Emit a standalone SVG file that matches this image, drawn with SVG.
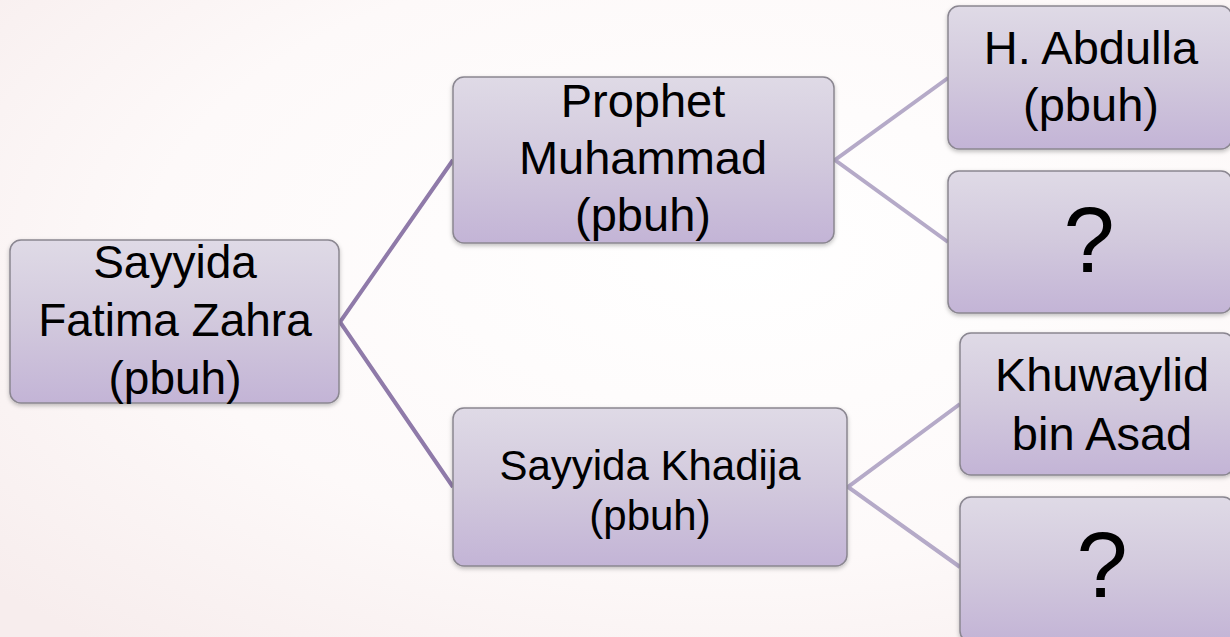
<svg xmlns="http://www.w3.org/2000/svg" width="1230" height="637" viewBox="0 0 1230 637">
<defs>
<radialGradient id="bg" cx="0.6" cy="0.4" r="0.8">
<stop offset="0" stop-color="#ffffff"/>
<stop offset="0.6" stop-color="#fdf9f9"/>
<stop offset="1" stop-color="#f7eded"/>
</radialGradient>
<linearGradient id="nf" x1="0" y1="0" x2="0" y2="1">
<stop offset="0" stop-color="#dfdae6"/>
<stop offset="0.5" stop-color="#d2c9dd"/>
<stop offset="1" stop-color="#c3b4d6"/>
</linearGradient>
<filter id="sh" x="-10%" y="-10%" width="120%" height="130%">
<feDropShadow dx="0" dy="2" stdDeviation="2" flood-color="#000" flood-opacity="0.25"/>
</filter>
<style>
.n{fill:url(#nf);stroke:#8a8690;stroke-width:1.5;filter:url(#sh)}
.t{font-family:"Liberation Sans",Arial,sans-serif;fill:#000;text-anchor:middle}
.c1{stroke:#8f7aa9;stroke-width:4;fill:none}
.c2{stroke:#b5aac8;stroke-width:4;fill:none}
</style>
</defs>
<rect width="1230" height="637" fill="url(#bg)"/>
<g id="connectors">
<polyline class="c1" points="453,160 340,322 453,487"/>
<polyline class="c2" points="948,78 835,160 948,242"/>
<polyline class="c2" points="960,404 848,487 960,567"/>
</g>
<g id="fatima">
<rect class="n" x="10" y="240" width="329" height="163" rx="11"/>
<text class="t" font-size="46" x="175"><tspan x="175" y="278">Sayyida</tspan><tspan x="175" y="336">Fatima Zahra</tspan><tspan x="175" y="394">(pbuh)</tspan></text>
</g>
<g id="muhammad">
<rect class="n" x="453" y="77" width="381" height="166" rx="11"/>
<text class="t" font-size="47"><tspan x="643" y="117">Prophet</tspan><tspan x="643" y="174">Muhammad</tspan><tspan x="643" y="231">(pbuh)</tspan></text>
</g>
<g id="khadija">
<rect class="n" x="453" y="408" width="394" height="158" rx="11"/>
<text class="t" font-size="42"><tspan x="650" y="480">Sayyida Khadija</tspan><tspan x="650" y="530">(pbuh)</tspan></text>
</g>
<g id="abdulla">
<rect class="n" x="948" y="6" width="284" height="143" rx="11"/>
<text class="t" font-size="47"><tspan x="1091" y="64">H. Abdulla</tspan><tspan x="1091" y="121">(pbuh)</tspan></text>
</g>
<g id="unknown1">
<rect class="n" x="948" y="171" width="284" height="142" rx="11"/>
<text class="t" font-size="92" x="1089" y="272">?</text>
</g>
<g id="khuwaylid">
<rect class="n" x="960" y="333" width="274" height="142" rx="11"/>
<text class="t" font-size="47"><tspan x="1102" y="391">Khuwaylid</tspan><tspan x="1102" y="450">bin Asad</tspan></text>
</g>
<g id="unknown2">
<rect class="n" x="960" y="497" width="274" height="145" rx="11"/>
<text class="t" font-size="92" x="1102" y="597">?</text>
</g>
</svg>
